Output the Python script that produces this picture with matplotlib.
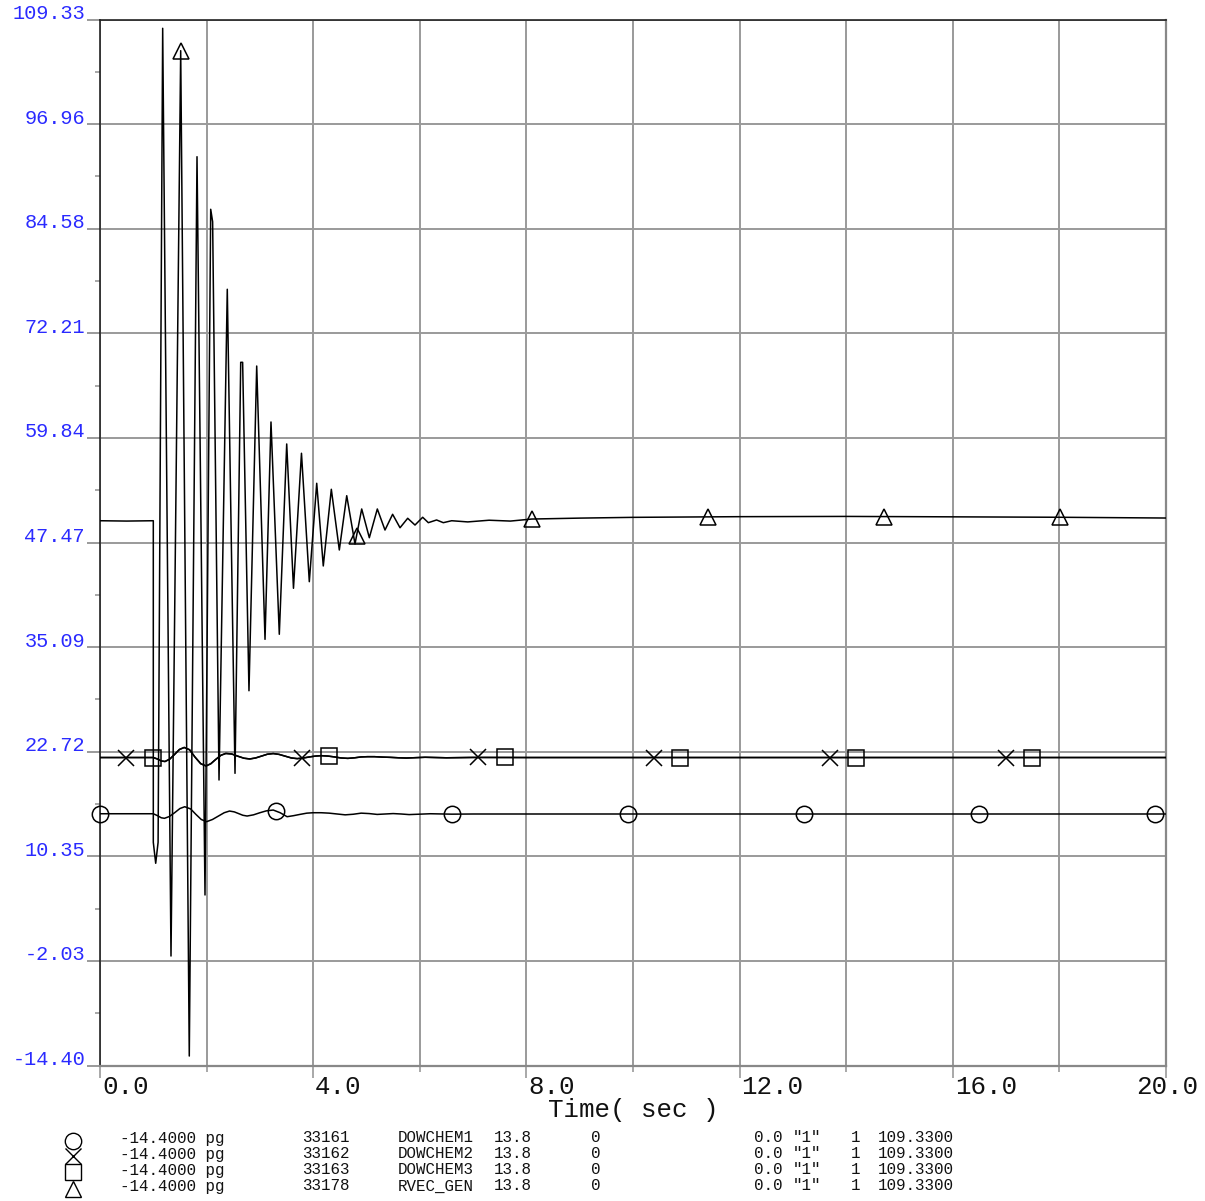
import numpy as np
import matplotlib
matplotlib.use("Agg")
import matplotlib.pyplot as plt
from matplotlib.transforms import offset_copy

# ---------------- data ----------------
tri_t = [0.0, 0.5, 1.0, 1.0, 1.045, 1.09, 1.176, 1.332, 1.514, 1.675, 1.820, 1.970,
         2.077, 2.113, 2.233, 2.388, 2.533, 2.640, 2.676, 2.795, 2.940, 3.096, 3.208,
         3.364, 3.503, 3.630, 3.780, 3.927, 4.066, 4.189, 4.340, 4.490, 4.629, 4.784,
         4.910, 5.053, 5.203, 5.347, 5.490, 5.629, 5.773, 5.910, 6.054, 6.160, 6.315,
         6.441, 6.598, 6.9, 7.3, 7.7, 8.1, 9.0, 10.0, 12.0, 14.0, 16.0, 18.0, 20.0]
tri_v = [50.04, 50.0, 50.04, 12.0, 9.52, 12.0, 108.29, -1.45, 105.64, -13.28, 93.10, 5.77,
         86.88, 85.41, 19.37, 77.42, 20.16, 68.78, 68.78, 29.93, 68.34, 36.01, 61.72,
         36.61, 59.12, 42.05, 58.02, 42.83, 54.47, 44.69, 53.76, 46.58, 53.00, 47.29,
         51.43, 48.03, 51.43, 48.94, 50.80, 49.21, 50.33, 49.53, 50.45, 49.81, 50.13,
         49.81, 50.04, 49.9, 50.1, 50.0, 50.24, 50.35, 50.44, 50.52, 50.55, 50.5, 50.45, 50.36]

sq_t = [0.0, 1.0, 1.08, 1.15, 1.22, 1.31, 1.40, 1.49, 1.58, 1.68, 1.78, 1.89, 1.99, 2.08,
        2.17, 2.27, 2.36, 2.47, 2.58, 2.70, 2.81, 2.92, 3.03, 3.14, 3.25, 3.36, 3.47, 3.59,
        3.70, 3.82, 3.93, 4.04, 4.15, 4.28, 4.40, 4.52, 4.65, 4.78, 4.90, 5.02, 5.15, 5.30,
        5.45, 5.60, 5.75, 6.1, 6.5, 7.0, 8.0, 20.0]
sq_v = [22.03, 22.03, 21.85, 21.62, 21.56, 21.85, 22.4, 22.98, 23.22, 22.95, 22.1, 21.3,
        21.03, 21.3, 21.8, 22.3, 22.51, 22.45, 22.2, 21.95, 21.86, 21.98, 22.2, 22.42, 22.5,
        22.4, 22.2, 21.98, 21.9, 21.98, 22.1, 22.2, 22.25, 22.2, 22.1, 21.98, 21.93, 22.0,
        22.1, 22.13, 22.13, 22.08, 22.05, 22.0, 21.97, 22.06, 22.0, 22.04, 22.03, 22.03]

c_t = [0.0, 1.0, 1.08, 1.15, 1.21, 1.30, 1.40, 1.50, 1.59, 1.70, 1.80, 1.90, 2.00, 2.11,
       2.22, 2.33, 2.43, 2.52, 2.60, 2.68, 2.76, 2.88, 3.0, 3.12, 3.25, 3.38, 3.51, 3.63,
       3.75, 3.88, 4.0, 4.15, 4.3, 4.45, 4.6, 4.75, 4.9, 5.05, 5.2, 5.35, 5.5, 5.65, 5.8,
       6.2, 6.6, 7.0, 20.0]
c_v = [15.38, 15.38, 15.15, 14.9, 14.84, 15.05, 15.5, 16.0, 16.21, 15.95, 15.3, 14.7, 14.44,
       14.7, 15.1, 15.5, 15.70, 15.6, 15.4, 15.2, 15.11, 15.25, 15.5, 15.72, 15.82, 15.5,
       15.03, 15.15, 15.3, 15.45, 15.5, 15.5, 15.45, 15.35, 15.25, 15.32, 15.45, 15.4,
       15.3, 15.35, 15.4, 15.35, 15.28, 15.38, 15.33, 15.35, 15.35]

series_t = [c_t, sq_t, sq_t, tri_t]
series_v = [c_v, sq_v, sq_v, tri_v]
marker_kinds = ["o", "x", "s", "^"]
marker_start = [0.0, 0.495, 0.99, 1.514]
marker_step = 3.3

y_min, y_max = -14.40, 109.33
y_ticklabels = ["-14.40", "-2.03", "10.35", "22.72", "35.09", "47.47",
                "59.84", "72.21", "84.58", "96.96", "109.33"]
x_labels = ["0.0", "4.0", "8.0", "12.0", "16.0", "20.0"]
x_label_pos = [0, 4, 8, 12, 16, 20]

leg_min = ["-14.4000 pg"] * 4
leg_bus = ["33161", "33162", "33163", "33178"]
leg_name = ["DOWCHEM1", "DOWCHEM2", "DOWCHEM3", "RVEC_GEN"]
leg_kv = ["13.8"] * 4
leg_zero = ["0"] * 4
leg_a = ["0.0"] * 4
leg_id = ['"1"'] * 4
leg_one = ["1"] * 4
leg_max = ["109.3300"] * 4

# ---------------- figure ----------------
W, H = 1205, 1201
fig = plt.figure(figsize=(W / 100, H / 100), dpi=100)
mono = "Liberation Mono"
L, R, T, B = 100, 1166, 19.5, 1065.5
ax = fig.add_axes([L / W, 1 - B / H, (R - L) / W, (B - T) / H])
ax.set_xlim(0, 20)
ax.set_ylim(y_min, y_max)

grid_c = "#9a9a9a"
ax.set_xticks(np.arange(0, 21, 4))
ax.set_xticks(np.arange(0, 21, 2), minor=True)
yt = np.linspace(y_min, y_max, 11)
ax.set_yticks(yt)
ax.set_yticks((yt[:-1] + yt[1:]) / 2, minor=True)
ax.grid(True, which="both", axis="x", color=grid_c, lw=1.4)
ax.grid(True, which="major", axis="y", color=grid_c, lw=1.4)
ax.tick_params(axis="x", which="major", length=8.5, color=grid_c, width=1.2, labelbottom=False)
ax.tick_params(axis="x", which="minor", length=4.3, color=grid_c, width=1.2)
ax.tick_params(axis="y", which="major", length=9.4, color=grid_c, width=1.4, labelleft=False)
ax.tick_params(axis="y", which="minor", length=3.6, color=grid_c, width=1.2)
for s in ["left", "top"]:
    ax.spines[s].set_color("#222222")
    ax.spines[s].set_linewidth(1.2)
for s in ["right", "bottom"]:
    ax.spines[s].set_color("#888888")
    ax.spines[s].set_linewidth(1.6)
ax.set_axisbelow(True)

# curves + markers
for tt, vv, mk, m0 in zip(series_t, series_v, marker_kinds, marker_start):
    ax.plot(tt, vv, color="black", lw=1.1, zorder=3)
    tm = np.arange(m0, 20.0, marker_step)
    ax.plot(tm, np.interp(tm, tt, vv), ls="none", marker=mk, ms=11.8,
            mfc="none", mec="black", mew=1.1, zorder=4, clip_on=False)

# y labels (blue, sitting on grid lines)
ytr = offset_copy(ax.get_yaxis_transform(), fig=fig, x=-15, y=0.5, units="dots")
for v, s in zip(yt, y_ticklabels):
    ax.text(0, v, s, transform=ytr, ha="right", va="baseline", color="#2a2aff",
            family=mono, fontsize=14.6)

# x labels
for p, s in zip(x_label_pos, x_labels):
    if p == 20:
        tr = offset_copy(ax.get_xaxis_transform(), fig=fig, x=1, y=-9, units="dots")
        ha = "center"
    else:
        tr = offset_copy(ax.get_xaxis_transform(), fig=fig, x=2, y=-9, units="dots")
        ha = "left"
    ax.text(p, 0, s, transform=tr, ha=ha, va="top", family=mono, fontsize=18.6, color="#111111")

fig.text((L + R) / 2 / W, 1 - 1110 / H, "Time( sec )", ha="center", va="center",
         family=mono, fontsize=18.6, color="#111111")

# legend block
lax = fig.add_axes([0, 0, 1, 1])
lax.set_xlim(0, W)
lax.set_ylim(H, 0)
lax.axis("off")
sym_y = [1141, 1156, 1172, 1189]
for mk, yy in zip(marker_kinds, sym_y):
    lax.plot([73], [yy], ls="none", marker=mk, ms=11.8, mfc="none", mec="black", mew=1.0)

row_y = [1138, 1154, 1170, 1186]
cols = [(120, leg_min), (302, leg_bus), (398, leg_name), (494, leg_kv), (591, leg_zero),
        (754, leg_a), (793, leg_id), (851, leg_one), (878, leg_max)]
for i, yy in enumerate(row_y):
    for x0, col in cols:
        fig.text(x0 / W, 1 - yy / H, col[i], ha="left", va="center", family=mono,
                 fontsize=11.4, color="#111111")

fig.savefig("out.png", dpi=100)
